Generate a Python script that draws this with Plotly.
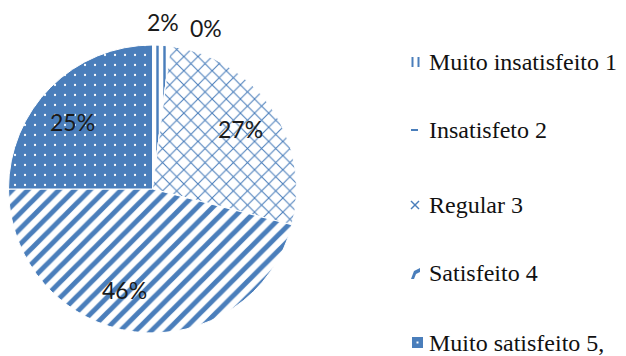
import math
import plotly.graph_objects as go

# Satisfaction survey shares (%), in the order they sit around the pie
categories = ["Muito insatisfeito 1", "Insatisfeto 2", "Regular 3", "Satisfeito 4", "Muito satisfeito 5,"]
values = [2, 0, 27, 46, 25]

BLUE = "#4A7EBB"
W, H = 626, 356

# fill patterns per slice: (shape, background, foreground, size, solidity)
patterns = [
    ("|", "white", BLUE, 7, 0.35),
    ("-", "white", BLUE, 7, 0.35),
    ("x", "white", BLUE, 10, 0.2),
    ("/", "white", BLUE, 11, 0.45),
    (".", BLUE, "white", 10, 0.04),
]

dom_x = [8 / W, 297 / W]
dom_y = [1 - 333 / H, 1 - 45 / H]

fig = go.Figure(
    go.Pie(
        labels=categories,
        values=values,
        sort=False,
        direction="clockwise",
        rotation=0,
        textinfo="none",
        hoverinfo="label+percent",
        showlegend=False,
        domain=dict(x=dom_x, y=dom_y),
        marker=dict(
            colors=[p[1] for p in patterns],
            line=dict(color="white", width=1),
            pattern=dict(
                shape=[p[0] for p in patterns],
                bgcolor=[p[1] for p in patterns],
                fgcolor=[p[2] for p in patterns],
                size=[p[3] for p in patterns],
                solidity=[p[4] for p in patterns],
                fillmode="replace",
            ),
        ),
    )
)

# percentage labels placed along each slice's mid angle
cx, cy = 152.5, 189.0
label_r = [167, 170, 107, 105, 105]
label_shift = [0, 11, 0, 8.5, -5]  # degrees, small nudges off the mid angle
total = sum(values)
start = 0.0
annotations = []
for v, rr, sh in zip(values, label_r, label_shift):
    span = 360.0 * v / total
    mid = math.radians(start + span / 2 + sh)
    px = cx + rr * math.sin(mid)
    py = cy - rr * math.cos(mid)
    annotations.append(dict(
        x=px / W, y=1 - py / H, xref="paper", yref="paper",
        xanchor="center", yanchor="middle",
        text=f"{v}%", showarrow=False,
        font=dict(family="Lato, Carlito, sans-serif", size=23, color="#1a1a1a"),
    ))
    start += span

# legend text
legend_y = [62, 130, 205, 273, 343]
for name, ly in zip(categories, legend_y):
    annotations.append(dict(
        x=427 / W, y=1 - ly / H, xref="paper", yref="paper",
        xanchor="left", yanchor="middle", text=name, showarrow=False,
        font=dict(family="Liberation Serif, Times New Roman, serif", size=24, color="#111"),
    ))

def px2p(x, y):
    return x / W, 1 - y / H

shapes = []
def line(x0, y0, x1, y1, w=2):
    a, b = px2p(x0, y0)
    c, d = px2p(x1, y1)
    shapes.append(dict(type="line", xref="paper", yref="paper", x0=a, y0=b, x1=c, y1=d,
                       line=dict(color=BLUE, width=w)))

# legend swatches
line(412.5, 57, 412.5, 67)
line(418.5, 57, 418.5, 67)
line(411, 130, 418, 130)
line(411, 201, 419, 209, 1.5)
line(411, 209, 419, 201, 1.5)
shapes.append(dict(type="path", xref="paper", yref="paper",
                   path=f"M {411/W} {1-279/H} L {414/W} {1-271/H} L {420/W} {1-268/H} L {420/W} {1-272/H} L {416/W} {1-274/H} L {414/W} {1-279/H} Z",
                   fillcolor=BLUE, line=dict(width=0)))
x0, y0 = px2p(412, 348)
x1, y1 = px2p(423, 337)
shapes.append(dict(type="rect", xref="paper", yref="paper", x0=x0, y0=y0, x1=x1, y1=y1,
                   fillcolor=BLUE, line=dict(width=0)))
x0, y0 = px2p(416.5, 343.5)
x1, y1 = px2p(418.5, 341.5)
shapes.append(dict(type="rect", xref="paper", yref="paper", x0=x0, y0=y0, x1=x1, y1=y1,
                   fillcolor="white", line=dict(width=0)))

fig.update_layout(
    width=W, height=H,
    margin=dict(l=0, r=0, t=0, b=0),
    paper_bgcolor="white", plot_bgcolor="white",
    annotations=annotations, shapes=shapes,
)

fig.write_html("out.html")
